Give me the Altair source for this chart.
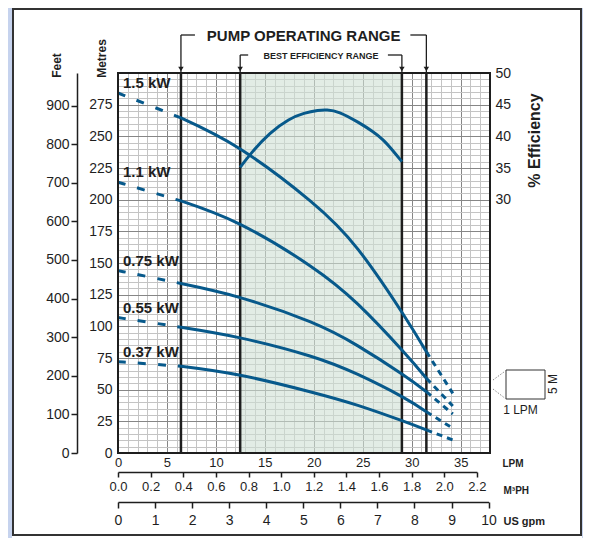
import altair as alt
import pandas as pd

FONT = "Liberation Sans"
INK = "#1e1e1e"
BLUE = "#07598b"

# ---------------- values ----------------
motors = ["1.5 kW", "1.1 kW", "0.75 kW", "0.55 kW", "0.37 kW"]

# dashed part left of the operating range (LPM, metres)
flow_left = [0.0, 3.2, 6.43]
head_left = {
    "1.5 kW": [284.2, 274.5, 264.5],
    "1.1 kW": [213.8, 206.5, 199.0],
    "0.75 kW": [144.0, 139.0, 133.8],
    "0.55 kW": [106.9, 103.2, 99.3],
    "0.37 kW": [72.1, 70.3, 68.5],
}

# solid part inside the operating range
flow_mid = [6.43, 12.48, 19.6, 24.5, 29.0, 31.5]
head_mid = {
    "1.5 kW": [264.5, 240.0, 199.3, 161.0, 111.1, 80.0],
    "1.1 kW": [199.0, 180.5, 147.9, 117.5, 81.3, 59.0],
    "0.75 kW": [133.8, 122.7, 103.7, 84.6, 62.4, 48.4],
    "0.55 kW": [99.3, 90.9, 76.6, 62.0, 44.5, 32.6],
    "0.37 kW": [68.5, 61.4, 48.4, 37.6, 25.5, 18.2],
}

# dashed part right of the operating range
flow_right = [31.5, 34.2]
head_right = {
    "1.5 kW": [80.0, 47.1],
    "1.1 kW": [59.0, 37.1],
    "0.75 kW": [48.4, 30.8],
    "0.55 kW": [32.6, 19.5],
    "0.37 kW": [18.2, 10.3],
}

# efficiency curve (LPM, %)
eff_flow = [12.48, 13.6, 15.5, 17.5, 19.0, 20.5, 21.3, 22.5, 24.7, 26.0, 27.1, 28.0, 29.0]
eff_pct = [35.1, 37.4, 40.6, 42.8, 43.7, 44.15, 44.2, 44.0, 42.1, 40.8, 39.5, 37.9, 36.0]

op_range = [6.43, 31.5]
best_range = [12.48, 29.0]

lpm_ticks = list(range(0, 39))
metre_ticks = list(range(0, 301, 5))
feet_ticks = list(range(0, 1000, 100))
eff_ticks = [30, 35, 40, 45, 50]
m3ph_ticks = [0.0, 0.2, 0.4, 0.6, 0.8, 1.0, 1.2, 1.4, 1.6, 1.8, 2.0, 2.2]
gpm_ticks = list(range(0, 11))

# ---------------- tables ----------------
def seg(flows, heads):
    rows = []
    for m in motors:
        for f, h in zip(flows, heads[m]):
            rows.append({"motor": m, "flow": f, "head": h})
    return pd.DataFrame(rows)

left_df = seg(flow_left, head_left)
mid_df = seg(flow_mid, head_mid)
right_df = seg(flow_right, head_right)
label_df = pd.DataFrame({"motor": motors, "flow": [flow_left[0]] * 5,
                         "head": [head_left[m][0] for m in motors]})
eff_df = pd.DataFrame({"flow": eff_flow, "eff": eff_pct})
lines_df = pd.DataFrame({"flow": op_range + best_range})
op_df = pd.DataFrame({"flow": op_range})
best_df = pd.DataFrame({"flow": best_range})
shade_df = pd.DataFrame({"flow": [best_range[0]], "flow2": [best_range[1]]})
frame_df = pd.DataFrame({"flow": [0.0], "flow2": [38.0]})
op_txt = pd.DataFrame({"flow": [sum(op_range) / 2], "t": ["PUMP OPERATING RANGE"]})
best_txt = pd.DataFrame({"flow": [sum(best_range) / 2], "t": ["BEST EFFICIENCY RANGE"]})
one = pd.DataFrame({"a": [0]})

# ---------------- scales / axes ----------------
X_SCALE = alt.Scale(domain=[0, 38], nice=False, zero=False)
Y_SCALE = alt.Scale(domain=[0, 300], nice=False, zero=False)

def grid_color(step):
    return {"condition": {"test": f"datum.value % {step} === 0", "value": "#868686"},
            "value": "#c4c4c4"}

X_AX = alt.Axis(values=lpm_ticks,
                labelExpr="datum.value % 5 === 0 && datum.value <= 35 ? datum.label : ''",
                grid=True, gridColor=grid_color(5), gridWidth=1,
                ticks=False, domain=False, labelPadding=3, labelFontSize=13,
                labelColor=INK, labelOverlap=False, labelFlush=False,
                title="LPM", titleX=384, titleY=10, titleAngle=0, titleAlign="left",
                titleBaseline="middle", titleFontSize=10, titleFontWeight="bold",
                titleColor=INK)
Y_AX = alt.Axis(values=metre_ticks,
                labelExpr="datum.value % 25 === 0 && datum.value < 300 ? datum.label : ''",
                grid=True, gridColor=grid_color(25), gridWidth=1,
                ticks=False, domain=False, labelPadding=6, labelFontSize=14,
                labelColor=INK, labelOverlap=False,
                title="Metres", titleX=-17, titleY=-15, titleAngle=270,
                titleAlign="center", titleBaseline="middle", titleFontSize=12,
                titleFontWeight="bold", titleColor=INK)


def X(field):
    return alt.X(field, type="quantitative", scale=X_SCALE, axis=X_AX)


def Y(field):
    return alt.Y(field, type="quantitative", scale=Y_SCALE, axis=Y_AX)


# ---------------- main layer (LPM x metres) ----------------
blue_left = alt.Chart(one).mark_rect(color="#c6d3ee").encode(
    x=alt.value(-110), x2=alt.value(-106), y=alt.value(-65), y2=alt.value(465))
blue_right = alt.Chart(one).mark_rect(color="#c6d3ee").encode(
    x=alt.value(464), x2=alt.value(466), y=alt.value(-65), y2=alt.value(465))
outer_frame = alt.Chart(one).mark_rect(fillOpacity=0, stroke="#333333", strokeWidth=2).encode(
    x=alt.value(-105), x2=alt.value(463), y=alt.value(-64), y2=alt.value(462))

shade = alt.Chart(shade_df).mark_rect(color="#cfdfd3", opacity=0.6).encode(
    x=X("flow"), x2="flow2")

range_lines = alt.Chart(lines_df).mark_rule(color=INK, strokeWidth=2.5).encode(x=X("flow"))

curve_left = alt.Chart(left_df).mark_line(
    color=BLUE, strokeWidth=3, strokeDash=[8, 12], interpolate="basis").encode(
    x=X("flow"), y=Y("head"), detail="motor:N")
curve_mid = alt.Chart(mid_df).mark_line(
    color=BLUE, strokeWidth=3, interpolate="natural").encode(
    x=X("flow"), y=Y("head"), detail="motor:N")
curve_right = alt.Chart(right_df).mark_line(
    color=BLUE, strokeWidth=3, strokeDash=[6, 5]).encode(
    x=X("flow"), y=Y("head"), detail="motor:N")

kw_labels = alt.Chart(label_df).mark_text(
    align="left", baseline="middle", dx=5, dy=-10, fontSize=15, fontWeight="bold",
    color=INK, font=FONT).encode(x=X("flow"), y=Y("head"), text="motor:N")

plot_frame = alt.Chart(frame_df).mark_rect(fillOpacity=0, stroke=INK, strokeWidth=2).encode(
    x=X("flow"), x2="flow2")

# brackets above the plot
op_vert = alt.Chart(op_df).mark_rule(color=INK, strokeWidth=1.3).encode(
    x=X("flow"), y=alt.value(-38), y2=alt.value(0))
best_vert = alt.Chart(best_df).mark_rule(color=INK, strokeWidth=1.3).encode(
    x=X("flow"), y=alt.value(-18), y2=alt.value(0))
arrows = alt.Chart(lines_df).mark_point(
    shape="triangle-down", filled=True, size=30, color=INK, opacity=1).encode(
    x=X("flow"), y=alt.value(-4))
op_l = alt.Chart(op_df.iloc[[0]]).mark_rule(color=INK, strokeWidth=1.3, x2Offset=14).encode(
    x=X("flow"), x2="flow", y=alt.value(-38))
op_r = alt.Chart(op_df.iloc[[1]]).mark_rule(color=INK, strokeWidth=1.3, x2Offset=-16).encode(
    x=X("flow"), x2="flow", y=alt.value(-38))
best_l = alt.Chart(best_df.iloc[[0]]).mark_rule(color=INK, strokeWidth=1.3, x2Offset=8).encode(
    x=X("flow"), x2="flow", y=alt.value(-18))
best_r = alt.Chart(best_df.iloc[[1]]).mark_rule(color=INK, strokeWidth=1.3, x2Offset=-14).encode(
    x=X("flow"), x2="flow", y=alt.value(-18))
op_title = alt.Chart(op_txt).mark_text(
    fontSize=15, fontWeight="bold", color=INK, font=FONT, baseline="middle").encode(
    x=X("flow"), y=alt.value(-37), text="t:N")
best_title = alt.Chart(best_txt).mark_text(
    fontSize=9, fontWeight="bold", color=INK, font=FONT, baseline="middle").encode(
    x=X("flow"), y=alt.value(-17), text="t:N")

# magnified grid-cell key at right
key_box = alt.Chart(one).mark_rect(fillOpacity=0, stroke="#333333", strokeWidth=1).encode(
    x=alt.value(388), x2=alt.value(427), y=alt.value(297), y2=alt.value(326))
key_l1 = alt.Chart(one).mark_rule(color="#888888", strokeWidth=1, strokeDash=[1.5, 1.5]).encode(
    x=alt.value(375), y=alt.value(307), x2=alt.value(388), y2=alt.value(297.5))
key_l2 = alt.Chart(one).mark_rule(color="#888888", strokeWidth=1, strokeDash=[1.5, 1.5]).encode(
    x=alt.value(375), y=alt.value(316), x2=alt.value(388), y2=alt.value(326))
key_t1 = alt.Chart(one).mark_text(text="1 LPM", fontSize=12, color=INK, font=FONT,
                                  baseline="middle").encode(x=alt.value(402.5), y=alt.value(337))
key_t2 = alt.Chart(one).mark_text(text="5 M", fontSize=12, color=INK, font=FONT, angle=270,
                                  baseline="middle").encode(x=alt.value(435), y=alt.value(311))

main = alt.layer(
    blue_left, blue_right, outer_frame, shade, range_lines,
    curve_left, curve_mid, curve_right, kw_labels, plot_frame,
    op_vert, best_vert, arrows, op_l, op_r, best_l, best_r, op_title, best_title,
    key_box, key_l1, key_l2, key_t1, key_t2,
)

# ---------------- efficiency (right axis) ----------------
eff = alt.Chart(eff_df).mark_line(color=BLUE, strokeWidth=3, interpolate="basis").encode(
    x=alt.X("flow:Q", scale=alt.Scale(domain=[0, 38], nice=False, zero=False), axis=None),
    y=alt.Y("eff:Q", scale=alt.Scale(domain=[-10, 50], nice=False, zero=False),
            axis=alt.Axis(orient="right", values=eff_ticks, ticks=False, domain=False,
                          grid=False, labelPadding=5, labelFontSize=14, labelColor=INK,
                          title="% Efficiency", titleAngle=270, titleX=44, titleY=67,
                          titleAlign="center", titleBaseline="middle", titleFontSize=16,
                          titleFontWeight="bold", titleColor=INK)),
)

# ---------------- feet (outer left axis) ----------------
feet = alt.Chart(pd.DataFrame({"ft": feet_ticks})).mark_point(opacity=0).encode(
    y=alt.Y("ft:Q", scale=alt.Scale(domain=[0, 300 * 3.28084], nice=False, zero=False),
            axis=alt.Axis(orient="left", offset=41, values=feet_ticks, grid=False,
                          domain=True, domainColor=INK, domainWidth=1.5,
                          ticks=True, tickSize=6, tickColor=INK, tickWidth=1.5,
                          labelPadding=2, labelFontSize=14, labelColor=INK,
                          title="Feet", titleAngle=270, titleX=-21, titleY=-8,
                          titleAlign="center", titleBaseline="middle", titleFontSize=12,
                          titleFontWeight="bold", titleColor=INK)),
)

# ---------------- M3PH and US gpm (lower axes) ----------------
m3ph = alt.Chart(pd.DataFrame({"q": m3ph_ticks})).mark_point(opacity=0).encode(
    x=alt.X("q:Q", scale=alt.Scale(domain=[0, 2.2], range=[0, 358.9], nice=False, zero=False),
            axis=alt.Axis(orient="bottom", offset=19, values=m3ph_ticks, format=".1f",
                          grid=False, domain=True, domainColor=INK, domainWidth=1.5,
                          ticks=True, tickSize=5, tickColor=INK, tickWidth=1.5,
                          labelPadding=3, labelFontSize=13, labelColor=INK,
                          labelFlush=False, labelOverlap=False,
                          title="M³PH", titleX=385, titleY=18, titleAngle=0,
                          titleAlign="left", titleBaseline="middle", titleFontSize=10,
                          titleFontWeight="bold", titleColor=INK)),
)
gpm = alt.Chart(pd.DataFrame({"g": gpm_ticks})).mark_point(opacity=0).encode(
    x=alt.X("g:Q", scale=alt.Scale(domain=[0, 10], range=[0, 370.6], nice=False, zero=False),
            axis=alt.Axis(orient="bottom", offset=49, values=gpm_ticks, format="d",
                          grid=False, domain=True, domainColor=INK, domainWidth=1.5,
                          ticks=True, tickSize=6, tickColor=INK, tickWidth=1.5,
                          labelPadding=5, labelFontSize=14, labelColor=INK,
                          labelFlush=False, labelOverlap=False,
                          title="US gpm", titleX=385, titleY=19, titleAngle=0,
                          titleAlign="left", titleBaseline="middle", titleFontSize=11,
                          titleFontWeight="bold", titleColor=INK)),
)

chart = alt.layer(main, eff, feet, m3ph, gpm).resolve_scale(
    x="independent", y="independent"
).properties(
    width=372, height=380,
    autosize=alt.AutoSizeParams(type="none"),
    padding={"left": 110, "top": 65, "right": 93, "bottom": 85},
    background="white",
).configure_view(stroke=None).configure_axis(
    labelFont=FONT, titleFont=FONT
).configure_text(font=FONT)

chart.save("out.html", embed_options={"renderer": "svg", "actions": False})
